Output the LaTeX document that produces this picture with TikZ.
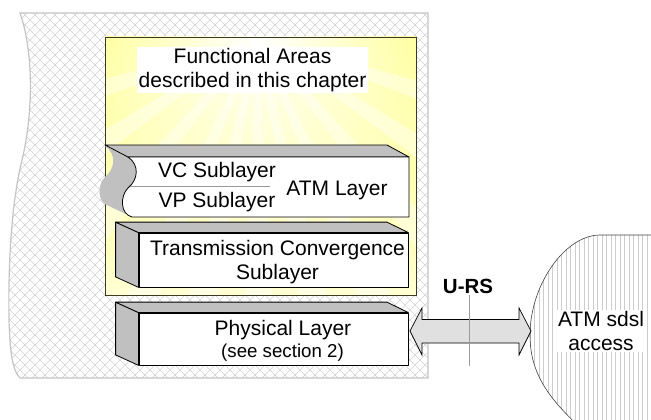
\documentclass[tikz,border=0pt]{standalone}
\usepackage{fontspec}
\setmainfont{Liberation Sans}
\usetikzlibrary{fadings,calc}

\definecolor{hatchgray}{HTML}{D2D2D2}
\definecolor{rimgray}{HTML}{C4C4C4}
\definecolor{sidegray}{HTML}{C0C0C0}
\definecolor{sunyellow}{HTML}{FFFF66}
\definecolor{areaborder}{HTML}{3A3A20}
\definecolor{arrowgray}{HTML}{E0E0E0}
\definecolor{refline}{HTML}{999999}
\definecolor{stripe}{HTML}{CCCCCC}

\tikzfading[name=fadedown, top color=transparent!100, bottom color=transparent!0]
\tikzfading[name=glowfade, inner color=transparent!0, outer color=transparent!100]

\begin{document}
\begin{tikzpicture}[x=1pt, y=-1pt,
  txt/.style={font=\fontsize{21}{24}\selectfont, inner sep=0pt, align=center},
  smalltxt/.style={font=\fontsize{18.7}{22}\selectfont, inner sep=0pt},
  face/.style={draw=black, line width=0.8pt, line join=round},
  frontbox/.style={face, fill=white, minimum width=269pt, inner sep=0pt},
  hatchline/.style={draw=hatchgray, line width=0.65pt},
  stripeline/.style={draw=stripe, line width=0.7pt},
]
\useasboundingbox (0,0) rectangle (651,420);

% cross-hatched backdrop with a wavy left edge
\path[draw=rimgray, line width=1.2pt,
  path picture={
    \foreach \c in {-440,-430,...,440} \draw[hatchline] (\c,0) -- ++(440,440);
    \foreach \c in {0,10,...,880} \draw[hatchline] (\c,0) -- ++(-440,440);
  }]
  (428,13) -- (20,13) .. controls (33,50) and (34,110) .. (22,160)
  .. controls (12,200) and (8,260) .. (9,320)
  .. controls (10,350) and (12,370) .. (20,378) -- (428,378) -- cycle;

% yellow area with a sunburst
\path[draw=areaborder, line width=0.9pt,
  path picture={
    \fill[sunyellow] (100,30) rectangle (420,300);
    \fill[white, path fading=fadedown, fill opacity=0.72] (105,37) rectangle (416,295);
    \fill[white, path fading=glowfade] (258,40) circle (260);
    \foreach \a in {18,34,50,66,78,90,102,114,130,146,162}
      \fill[white, fill opacity=0.4] (258,38) -- +(\a-3:420) -- +(\a+3:420) -- cycle;
  }] (105,37) rectangle (416,295);
\coordinate (area) at (260.5,166);

\node[txt, fill=white, inner sep=1.5pt, anchor=base] (title) at (252.5,87.5)
  {Functional Areas\\described in this chapter};

% ATM layer block: wavy side, top face, front face
\fill[sidegray] (105,146) -- (128,157) .. controls (140,165) and (138,180) .. (128,188)
  .. controls (120,196) and (120,214) .. (132,217) -- (109,206)
  .. controls (97,203) and (97,185) .. (105,177)
  .. controls (115,169) and (117,154) .. (105,146) -- cycle;
\draw[face, fill=sidegray] (105,145) -- (387,145) -- (409,157) -- (128,157) -- cycle;
\draw[face, fill=white] (128,157) -- (409,157) -- (409,217) -- (132,217)
  .. controls (120,214) and (120,196) .. (128,188)
  .. controls (138,180) and (140,165) .. (128,157) -- cycle;
\draw[refline, line width=0.8pt] (130,186) -- (270,186);
\node[txt, anchor=base] (vc) at (217,177) {VC Sublayer};
\node[txt, anchor=base] (vp) at (217,207) {VP Sublayer};
\node[txt, anchor=base] (atm) at (337,195) {ATM Layer};

% Transmission Convergence block
\node[frontbox, minimum height=54pt] (tc) at (273.5,260) {};
\draw[face, fill=sidegray] (tc.north west) -- +(-23,-10.5) -- ($(tc.south west)+(-23,-10.5)$) -- (tc.south west) -- cycle;
\draw[face, fill=sidegray] (tc.north west) -- +(-23,-10.5) -- ($(tc.north east)+(-21.5,-10.5)$) -- (tc.north east) -- cycle;
\node[txt, anchor=base] (tctext) at (277.5,279.5) {Transmission Convergence\\Sublayer};

% Physical layer block
\node[frontbox, minimum height=52pt] (phy) at (273.5,339) {};
\draw[face, fill=sidegray] (phy.north west) -- +(-23,-10.5) -- ($(phy.south west)+(-23,-10.5)$) -- (phy.south west) -- cycle;
\draw[face, fill=sidegray] (phy.north west) -- +(-23,-10.5) -- ($(phy.north east)+(-21.5,-10.5)$) -- (phy.north east) -- cycle;
\node[txt, anchor=base] (phytext) at (283,335) {Physical Layer};
\node[smalltxt, anchor=base] (phynote) at (282.5,357) {(see section 2)};

% ATM sdsl access cloud
\path[draw=black!75, line width=0.6pt,
  path picture={
    \foreach \x in {530,534.5,...,660} \draw[stripeline] (\x,220) -- (\x,440);
  }]
  (670,235) -- (600,235) .. controls (565,235) and (530,285) .. (530,335)
  .. controls (530,375) and (550,400) .. (585,432) -- (670,432) -- cycle;
\node[txt, fill=white, inner sep=1.5pt, anchor=base] (sdsl) at (601,350.5) {ATM sdsl\\access};

% U-RS interface: double block arrow and reference line
\coordinate (ul) at (410,331);
\coordinate (ur) at (531,331);
\draw[fill=arrowgray, draw=black, line width=0.7pt, line join=miter]
  (ul) -- +(12,-23) -- +(12,-11.5) -- ($(ur)+(-12,-11.5)$) -- ($(ur)+(-12,-23)$) -- (ur)
  -- ($(ur)+(-12,24)$) -- ($(ur)+(-12,12)$) -- ($(ul)+(12,12)$) -- ($(ul)+(12,24)$) -- cycle;
\node[font=\fontsize{20.5}{24}\selectfont\bfseries, inner sep=0pt, anchor=base] (urs) at (468,293) {U-RS};
\draw[refline, line width=1pt] (469,295) -- (469,366);

\end{tikzpicture}
\end{document}
